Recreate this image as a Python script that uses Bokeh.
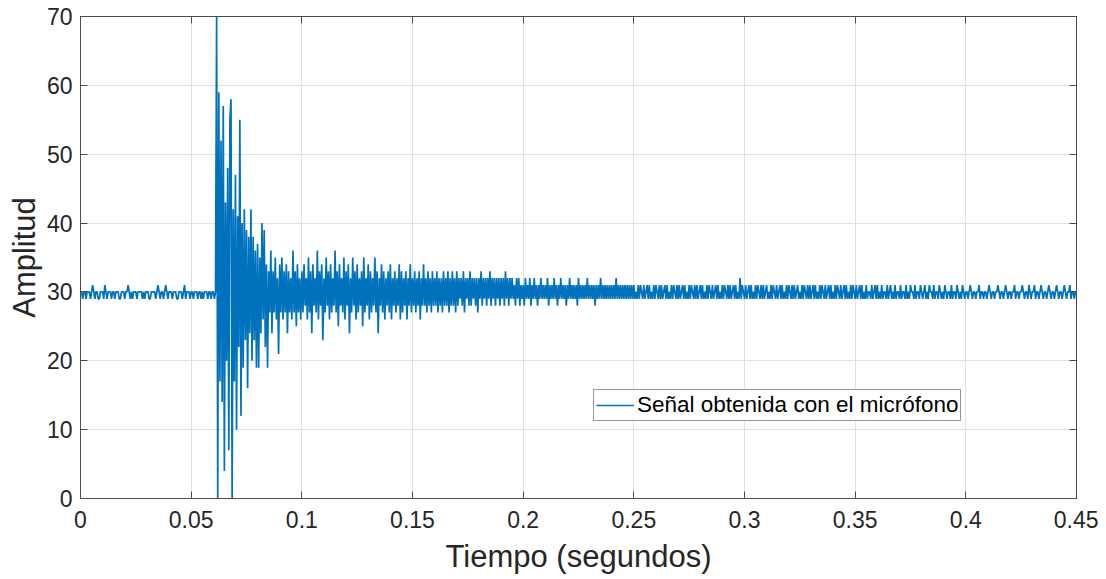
from bokeh.plotting import figure
from bokeh.models import Range1d, FixedTicker, LinearAxis, Legend, LegendItem, CustomLabelingPolicy
from bokeh.embed import file_html
from bokeh.resources import INLINE

# ---- data (resampled at 2 kHz) ----
fs = 2000

pre_impacto = [
    30, 30, 29, 30, 30, 29, 30, 30, 30, 29,
    30, 31, 30, 29, 30, 30, 29, 29, 30, 30,
    30, 29, 31, 30, 29, 30, 30, 30, 29, 30,
    30, 29, 30, 30, 30, 29, 29, 30, 30, 30,
    29, 30, 30, 31, 30, 29, 30, 29, 30, 30,
    30, 29, 30, 30, 30, 30, 29, 30, 29, 30,
    30, 30, 29, 29, 30, 30, 30, 30, 29, 30,
    31, 30, 29, 30, 30, 29, 30, 31, 30, 29,
    30, 30, 30, 29, 30, 30, 30, 29, 29, 30,
    30, 30, 29, 30, 31, 29, 30, 30, 30, 29,
    30, 30, 29, 30, 30, 30, 29, 30, 30, 29,
    30, 29, 30, 30, 30, 29, 30, 30, 29, 30,
    30, 29, 30,
]

impacto = [
    70, 0, 59, 17, 52, 14,
    57, 4, 43, 20, 48, 7, 55, 58, 0, 42,
    17, 47, 10, 41, 22, 55, 12, 40, 19, 42,
    23, 39, 16, 38, 24, 42, 20, 38, 23, 36,
    19, 37, 19, 35, 24, 40, 26, 39, 22, 34,
    19, 33, 27, 36, 24, 33, 27, 35, 26, 32,
    21, 34, 27, 35, 26, 33, 27, 34, 24, 33,
    27, 32, 26, 36, 27, 33, 25, 34, 27, 32,
    26,
]

decaimiento = [
    33, 27, 34, 28, 32, 26, 35, 27, 33, 24, 34, 28, 32, 27, 36, 26, 33, 28, 34, 23,
    32, 27, 35, 28, 33, 26, 34, 27, 32, 28, 36, 27, 33, 25, 34, 28, 32, 27, 35, 26,
    33, 28, 34, 24, 32, 27, 35, 28, 33, 26, 34, 27, 32, 28, 33, 25, 35, 27, 32, 28,
    34, 26, 33, 27, 32, 28, 35, 27, 33, 24, 32, 28, 34, 27, 33, 26, 32, 28, 33, 27,
    34, 26, 32, 28, 33, 27, 32, 28, 34, 26, 33, 27, 32, 28, 33, 26, 32, 28, 34, 27,
    32, 28, 33, 27, 32, 28, 33, 26, 32, 28, 34, 28, 32, 27, 33, 28, 32, 27, 33, 28,
    32, 28, 33, 27, 32, 28, 32, 27, 33, 28, 32, 28, 33, 27, 32, 28, 33, 28, 32, 27,
    33, 28, 32, 29, 32, 28, 33, 27, 32, 29, 32, 28, 33, 28, 32, 29, 32, 28, 32, 27,
    32, 29, 33, 28, 32, 29, 32, 28, 32, 29, 33, 28, 32, 29, 32, 28, 32, 29, 32, 28,
    32, 29, 32, 28, 33, 29, 32, 28, 32, 29, 32, 29, 31, 28, 32, 29, 32, 28, 31, 29,
]

cola = [
    31, 28, 32, 29, 31, 29, 32, 28, 31, 29, 32, 29, 31, 28, 31, 29, 32, 29, 31, 29,
    31, 29, 32, 28, 31, 29, 31, 29, 32, 29, 31, 28, 31, 29, 32, 29, 31, 29, 31, 28,
    31, 29, 32, 29, 31, 29, 31, 29, 31, 28, 32, 29, 31, 29, 31, 29, 31, 29, 32, 29,
    31, 29, 31, 29, 31, 28, 31, 29, 31, 29, 32, 29, 31, 29, 31, 29, 31, 29, 31, 29,
    31, 29, 31, 29, 32, 29, 31, 29, 31, 29, 31, 29, 31, 29, 31, 29, 31, 29, 31, 29,
    31, 29, 30, 29, 31, 29, 31, 30, 29, 31, 29, 30, 31, 29, 31, 29, 30, 29, 31, 29,
    31, 30, 29, 31, 29, 31, 29, 30, 31, 29, 31, 29, 30, 29, 31, 29, 31, 30, 29, 31,
    29, 31, 29, 30, 31, 29, 31, 29, 30, 29, 31, 29, 31, 30, 29, 31, 29, 31, 29, 30,
    31, 29, 31, 29, 30, 29, 31, 29, 31, 30, 29, 31, 29, 30, 31, 29, 31, 29, 30, 29,
    31, 29, 31, 30, 29, 31, 29, 31, 29, 30, 31, 29, 31, 29, 30, 29, 32, 29, 31, 30,
    29, 31, 29, 30, 31, 29, 31, 29, 30, 29, 31, 29, 31, 30, 29, 31, 29, 31, 29, 30,
    31, 29, 30, 29, 31, 29, 31, 30, 29, 31, 29, 30, 31, 29, 31, 29, 30, 29, 31, 29,
    31, 30, 29, 31, 29, 31, 29, 30, 31, 29, 30, 29, 31, 29, 31, 30, 29, 31, 29, 31,
    29, 30, 31, 29, 31, 29, 30, 29, 31, 29, 31, 30, 29, 31, 29, 30, 31, 29, 31, 29,
    30, 29, 31, 29, 31, 30, 29, 31, 29, 30, 31, 29, 31, 29, 30, 29, 31, 29, 31, 30,
    29, 31, 29, 30, 31, 29, 31, 29, 30, 29, 31, 29, 30, 30, 29, 31, 29, 30, 31, 29,
    31, 29, 30, 29, 31, 29, 30, 30, 29, 31, 29, 30, 31, 29, 30, 29, 31, 29, 30, 30,
    29, 31, 29, 30, 30, 29, 31, 29, 30, 29, 31, 30, 30, 29, 31, 29, 30, 30, 29, 31,
    30, 29, 30, 31, 29, 30, 29, 31, 30, 30, 29, 31, 29, 30, 30, 29, 31, 30, 29, 30,
    29, 31, 30, 29, 30, 30, 29, 31, 29, 30, 30, 29, 31, 30, 29, 30, 29, 31, 30, 29,
    30, 30, 29, 30, 31, 30, 29, 30, 30, 29, 30, 30, 31, 29, 30, 30, 29, 30, 30, 29,
    30, 31, 30, 29, 30, 30, 29, 30, 30, 31, 30, 29, 30, 30, 29, 30, 31, 30, 29, 30,
    30, 29, 30, 30, 31, 29, 30, 30, 29, 30, 30, 31, 30, 29, 30, 30, 29, 31, 30, 29,
    30, 30, 31, 29, 30, 30, 29, 30, 31, 30, 29, 30, 30, 29, 30, 31, 30, 29, 30, 30,
    29, 30, 31, 30, 29, 30, 30, 29, 30, 31, 30, 29, 30, 30, 31, 29, 30, 30, 29, 30,
]

amplitud = pre_impacto + impacto + decaimiento + cola
tiempo = [i / fs for i in range(len(amplitud))]

x_ticks = [0, 0.05, 0.1, 0.15, 0.2, 0.25, 0.3, 0.35, 0.4, 0.45]
x_tick_labels = ["0", "0.05", "0.1", "0.15", "0.2", "0.25", "0.3", "0.35", "0.4", "0.45"]
y_ticks = [0, 10, 20, 30, 40, 50, 60, 70]
y_tick_labels = ["0", "10", "20", "30", "40", "50", "60", "70"]

serie_label = "Señal obtenida con el micrófono"
x_label = "Tiempo (segundos)"
y_label = "Amplitud"

# ---- styling ----
FONT = "Liberation Sans"
AX_COLOR = "#4d4d4d"
TXT_COLOR = "#262626"
LINE_COLOR = "#0072BD"

p = figure(width=1098, height=579,
           x_range=Range1d(0, 0.45), y_range=Range1d(0, 70),
           output_backend="svg", toolbar_location=None,
           min_border_left=80, min_border_right=22,
           min_border_top=16, min_border_bottom=81,
           background_fill_color="white", border_fill_color="white")

p.outline_line_color = AX_COLOR
p.outline_line_width = 1

r = p.line(tiempo, amplitud, line_color=LINE_COLOR, line_width=1.7)

for ax, ticks, labels in ((p.xaxis[0], x_ticks, x_tick_labels),
                          (p.yaxis[0], y_ticks, y_tick_labels)):
    ax.ticker = FixedTicker(ticks=ticks)
    ax.major_label_overrides = dict(zip(ticks, labels))
    ax.major_tick_in = 7
    ax.major_tick_out = 0
    ax.minor_tick_line_color = None
    ax.axis_line_color = AX_COLOR
    ax.major_tick_line_color = AX_COLOR
    ax.major_label_text_font = FONT
    ax.major_label_text_font_size = "23px"
    ax.major_label_text_color = TXT_COLOR
    ax.axis_label_text_font = FONT
    ax.axis_label_text_font_size = "31px"
    ax.axis_label_text_font_style = "normal"
    ax.axis_label_text_color = TXT_COLOR

p.xaxis[0].axis_label = x_label
p.xaxis[0].major_label_standoff = 12
p.xaxis[0].axis_label_standoff = 8
p.yaxis[0].axis_label = y_label
p.yaxis[0].major_label_standoff = 8
p.yaxis[0].axis_label_standoff = 2

hide_all = "for (const i of indices) { indices.unset(i) }"
top_ax = LinearAxis(ticker=FixedTicker(ticks=x_ticks), major_label_text_font_size="10px",
                    major_label_policy=CustomLabelingPolicy(code=hide_all),
                    major_label_standoff=0, major_tick_in=7, major_tick_out=0,
                    minor_tick_line_color=None, axis_line_color=AX_COLOR,
                    major_tick_line_color=AX_COLOR)
right_ax = LinearAxis(ticker=FixedTicker(ticks=y_ticks), major_label_text_font_size="10px",
                      major_label_policy=CustomLabelingPolicy(code=hide_all),
                      major_label_standoff=0, major_tick_in=7, major_tick_out=0,
                      minor_tick_line_color=None, axis_line_color=AX_COLOR,
                      major_tick_line_color=AX_COLOR)
p.add_layout(top_ax, "above")
p.add_layout(right_ax, "right")

p.xgrid.ticker = FixedTicker(ticks=x_ticks)
p.ygrid.ticker = FixedTicker(ticks=y_ticks)
p.grid.grid_line_color = "#e0e0e0"
p.grid.grid_line_width = 1

legend = Legend(items=[LegendItem(label=serie_label, renderers=[r])],
                location=(513, 77))
legend.label_text_font = FONT
legend.label_text_font_size = "22.5px"
legend.label_text_color = "#000000"
legend.glyph_width = 38
legend.glyph_height = 20
legend.label_height = 20
legend.label_standoff = 3
legend.padding = 2
legend.spacing = 0
legend.margin = 0
legend.border_line_color = "#333333"
legend.border_line_width = 1
legend.background_fill_color = "white"
legend.background_fill_alpha = 1
p.add_layout(legend)

open("out.html", "w").write(file_html(p, INLINE))
